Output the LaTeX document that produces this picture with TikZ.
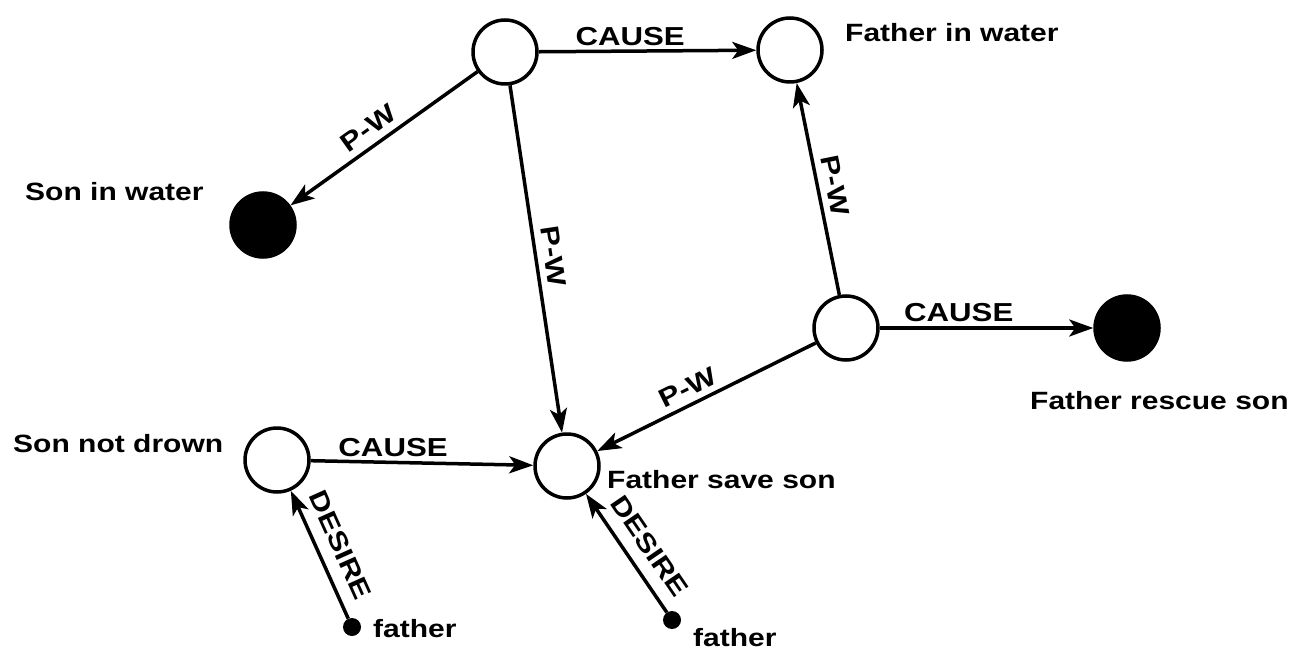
\documentclass[tikz,border=0pt]{standalone}
\usepackage{fontspec}
\setmainfont{Liberation Sans}[FakeStretch=1.2]
\usetikzlibrary{arrows.meta}
\begin{document}
\begin{tikzpicture}[x=1pt,y=-1pt,
  state/.style={circle, draw, line width=3.5pt, minimum size=64pt, inner sep=0pt},
  goal/.style={state, fill=black},
  dotnode/.style={circle, fill=black, minimum size=18pt, inner sep=0pt},
  txt/.style={font=\fontsize{25}{28}\selectfont\bfseries, inner sep=0pt},
  rel/.style={font=\fontsize{26}{28}\selectfont\bfseries, inner sep=4pt},
  arr/.style={line width=3.5pt, -{Stealth[length=24pt,width=17pt,inset=6pt]}}]
\useasboundingbox[fill=white] (0,0) rectangle (1292,652);
% nodes
\node[state] (A) at (505,52) {};
\node[state] (B) at (790,50) {};
\node[goal] (C) at (263,225) {};
\node[state] (D) at (846,328) {};
\node[goal] (E) at (1127,328) {};
\node[state] (F) at (277,460) {};
\node[state] (G) at (567,466) {};
\node[dotnode] (d1) at (352,627) {};
\node[dotnode] (d2) at (672,620) {};
% texts
\node[txt, anchor=west] (tB) at (845,33) {Father in water};
\node[txt, anchor=west] (tC) at (25,192) {Son in water};
\node[txt, anchor=west] (tF) at (13,444) {Son not drown};
\node[txt, anchor=west] (tG) at (607,480) {Father save son};
\node[txt, anchor=west] (tE) at (1030,401) {Father rescue son};
\node[txt, anchor=west] (t1) at (373,629) {father};
\node[txt, anchor=west] (t2) at (693,638) {father};
% connectors
\draw[arr] (A) -- node[rel, pos=0.42, above] {CAUSE} (B);
\draw[arr] (A) -- node[rel, pos=0.53, above=3pt, sloped] {P-W} (C);
\draw[arr] (A) -- node[rel, pos=0.5, above=3pt, sloped] {P-W} (G);
\draw[arr] (D) -- node[rel, pos=0.5, above=3pt, sloped] {P-W} (B);
\draw[arr] (D) -- node[rel, pos=0.55, above=2pt, sloped] {P-W} (G);
\draw[arr] (D) -- node[rel, pos=0.37, above] {CAUSE} (E);
\draw[arr] (F) -- node[rel, pos=0.37, above] {CAUSE} (G);
\draw[arr] (d1) -- node[rel, pos=0.5, above=8pt, sloped] {DESIRE} (F);
\draw[arr] (d2) -- node[rel, pos=0.45, above=8pt, sloped] {DESIRE} (G);
\end{tikzpicture}
\end{document}
